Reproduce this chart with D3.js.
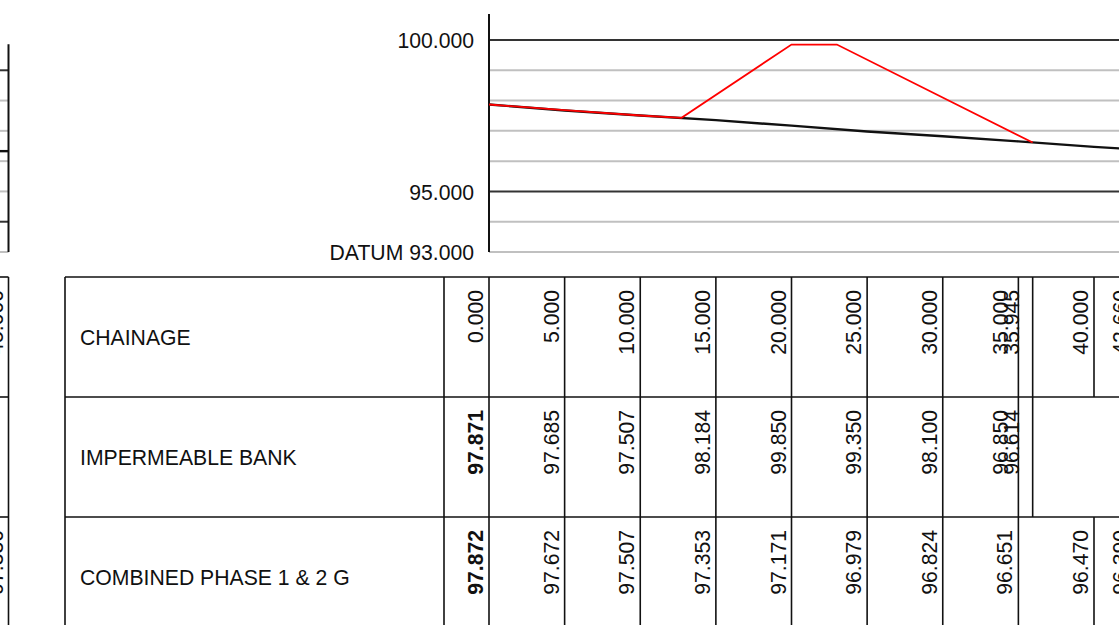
<!DOCTYPE html>
<html>
<head>
<meta charset="utf-8">
<script src="https://cdn.jsdelivr.net/npm/d3@7"></script>
<style>
  body { margin: 0; background: #fff; }
  svg { display: block; font-family: "Liberation Sans", Arial, sans-serif; }
</style>
</head>
<body>
<svg id="chart" width="1119" height="625"></svg>
<script>
// table columns, one list per row
var chainages = [0, 5, 10, 15, 20, 25, 30, 35, 35.945, 40, 42.66];
var bankChainages = [0, 5, 10, 15, 20, 25, 30, 35, 35.945];
var bankLevels = [97.871, 97.685, 97.507, 98.184, 99.850, 99.350, 98.100, 96.850, 96.614];
var groundChainages = [0, 5, 10, 15, 20, 25, 30, 35, 40, 42.66];
var groundLevels = [97.872, 97.672, 97.507, 97.353, 97.171, 96.979, 96.824, 96.651, 96.470, 96.390];

// bank outline as drawn (toe, crest start, crest end, toe)
var bankShapeChainages = [0, 5, 10, 12.73, 20, 23, 35.945];
var bankShapeLevels = [97.871, 97.685, 97.507, 97.43, 99.85, 99.85, 96.614];

var gridLevels = [93, 94, 95, 96, 97, 98, 99, 100];
var majorLevels = [95, 100];
var levelTicks = [93, 95, 100];
var datum = 93;

var rowNames = ["CHAINAGE", "IMPERMEABLE BANK", "COMBINED PHASE 1 & 2 G"];

// tail of the previous sheet, cut off at the left edge
var prevGridLevels = [94, 95, 96, 97, 98, 99, 100];
var prevMajorLevels = [95, 100];
var prevGroundLevel = 97.33;
var prevLabels = ["45.000", null, "97.330"];

var W = 1119, H = 625;
var FONT = 21.2;

var svg = d3.select("#chart");

var x = d3.scaleLinear().domain([0, 40]).range([489, 1094]);
var y = d3.scaleLinear().domain([93, 100]).range([252, 40]);
var yPrev = d3.scaleLinear().domain([94, 101]).range([252, 40]);
var axisTop = 100.86;

var fmt = d3.format(".3f");

function gridColour(majors) {
	return function(d) { return majors.indexOf(d) >= 0 ? "#333" : "#c0c0c0"; };
}

// ---- previous sheet sliver ----
var prev = svg.append("g");
prev.selectAll("line.grid")
	.data(prevGridLevels)
	.enter().append("line")
	.attr("x1", 0).attr("x2", 8.5)
	.attr("y1", function(d) { return yPrev(d); })
	.attr("y2", function(d) { return yPrev(d); })
	.attr("stroke", gridColour(prevMajorLevels))
	.attr("stroke-width", 2);
prev.append("line")
	.attr("x1", 0).attr("x2", 8.5)
	.attr("y1", yPrev(prevGroundLevel)).attr("y2", yPrev(prevGroundLevel))
	.attr("stroke", "#111").attr("stroke-width", 2.4);
prev.append("line")
	.attr("x1", 8.5).attr("x2", 8.5)
	.attr("y1", yPrev(axisTop)).attr("y2", yPrev(94))
	.attr("stroke", "#111").attr("stroke-width", 2);

// ---- main grid ----
var plot = svg.append("g");

plot.selectAll("line.grid")
	.data(gridLevels)
	.enter().append("line")
	.attr("class", "grid")
	.attr("x1", x(0)).attr("x2", W)
	.attr("y1", function(d) { return y(d); })
	.attr("y2", function(d) { return y(d); })
	.attr("stroke", gridColour(majorLevels))
	.attr("stroke-width", 2);

plot.append("line")
	.attr("x1", x(0)).attr("x2", x(0))
	.attr("y1", y(axisTop)).attr("y2", y(datum))
	.attr("stroke", "#111").attr("stroke-width", 2);

var yAxis = d3.axisLeft(y)
	.tickValues(levelTicks)
	.tickSize(0)
	.tickPadding(15)
	.tickFormat(function(d) { return (d === datum ? "DATUM " : "") + fmt(d); });

var gAxis = plot.append("g")
	.attr("transform", "translate(" + x(0) + ",0)")
	.call(yAxis);
gAxis.select(".domain").remove();
gAxis.selectAll("text")
	.attr("font-size", FONT)
	.attr("font-family", "Liberation Sans, Arial, sans-serif")
	.attr("fill", "#111")
	.attr("dy", "0.36em");

// ---- profiles ----
var line = d3.line()
	.x(function(d) { return x(d[0]); })
	.y(function(d) { return y(d[1]); });

plot.append("path")
	.datum(d3.zip(groundChainages, groundLevels))
	.attr("d", line)
	.attr("fill", "none")
	.attr("stroke", "#111")
	.attr("stroke-width", 2.4);

plot.append("path")
	.datum(d3.zip(bankShapeChainages, bankShapeLevels))
	.attr("d", line)
	.attr("fill", "none")
	.attr("stroke", "#f00")
	.attr("stroke-width", 1.8);

// ---- table ----
var tableLeft = 65, headerRight = 444, tableTop = 277, rowH = 120;

var rows = [
	{ ch: chainages, text: chainages.map(fmt), boldFirst: false },
	{ ch: bankChainages, text: bankLevels.map(fmt), boldFirst: true },
	{ ch: groundChainages, text: groundLevels.map(fmt), boldFirst: true }
];

var table = svg.append("g")
	.attr("stroke", "#111")
	.attr("stroke-width", 1.6);

rows.forEach(function(row, i) {
	var top = tableTop + i * rowH;

	table.append("line")
		.attr("x1", tableLeft).attr("x2", W)
		.attr("y1", top).attr("y2", top);
	table.append("line")
		.attr("x1", 0).attr("x2", 8.5)
		.attr("y1", top).attr("y2", top);

	svg.append("text")
		.attr("x", tableLeft + 15)
		.attr("y", top + rowH / 2 + 0.36 * FONT)
		.attr("font-size", FONT)
		.attr("fill", "#111")
		.text(rowNames[i]);

	table.selectAll("line.col" + i)
		.data(row.ch)
		.enter().append("line")
		.attr("x1", function(d) { return x(d); })
		.attr("x2", function(d) { return x(d); })
		.attr("y1", top).attr("y2", top + rowH);

	svg.selectAll("text.val" + i)
		.data(row.ch)
		.enter().append("text")
		.attr("class", "val" + i)
		.attr("transform", function(d, j) {
			var gapNext = j < row.ch.length - 1 ? x(row.ch[j + 1]) - x(d) : 99;
			var gapPrev = j > 0 ? x(d) - x(row.ch[j - 1]) : 99;
			var dx = gapNext < 20 ? -10 : (gapPrev < 20 ? -14 : -6);
			return "translate(" + (x(d) + dx) + "," + (top + 13) + ") rotate(-90)";
		})
		.attr("text-anchor", "end")
		.attr("font-size", FONT)
		.attr("font-weight", function(d, j) { return j === 0 && row.boldFirst ? "bold" : "normal"; })
		.attr("fill", "#111")
		.text(function(d, j) { return row.text[j]; });

	if (prevLabels[i]) {
		svg.append("text")
			.attr("transform", "translate(2.5," + (top + 13) + ") rotate(-90)")
			.attr("text-anchor", "end")
			.attr("font-size", FONT)
			.attr("fill", "#111")
			.text(prevLabels[i]);
	}
});

[tableLeft, headerRight, 8.5].forEach(function(vx) {
	table.append("line")
		.attr("x1", vx).attr("x2", vx)
		.attr("y1", tableTop).attr("y2", H);
});
</script>
</body>
</html>
